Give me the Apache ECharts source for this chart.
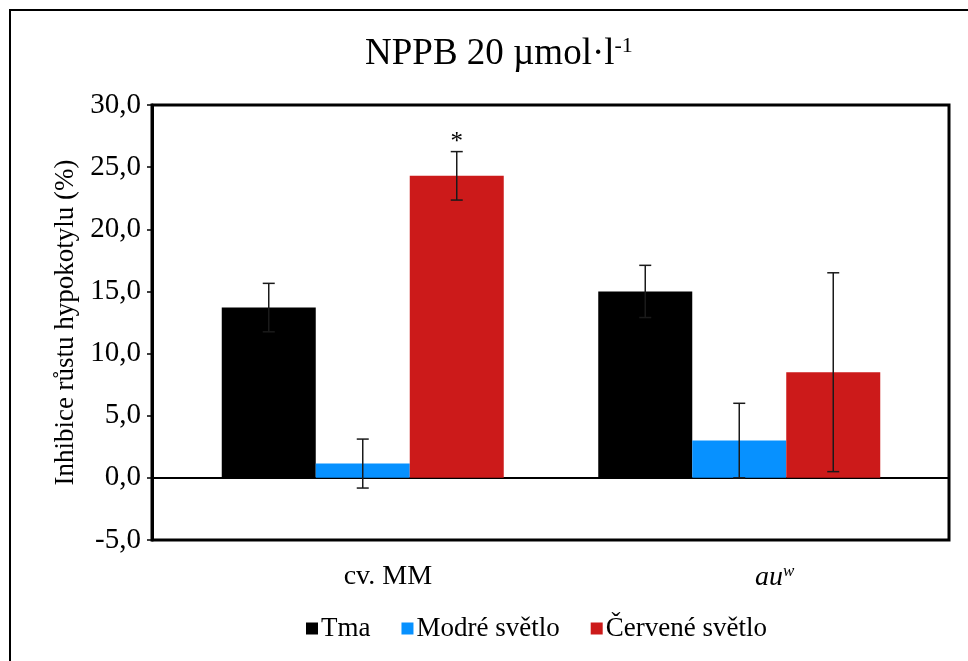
<!DOCTYPE html>
<html>
<head>
<meta charset="utf-8">
<script src="https://cdn.jsdelivr.net/npm/echarts@6/dist/echarts.min.js"></script>
<style>html,body{margin:0;padding:0;background:#fff}#c{width:968px;height:661px}</style>
</head>
<body>
<div id="c"></div>
<script>
var categories = ['cv. MM', 'au'];
var categorySup = ['', 'w'];
var seriesNames = ['Tma', 'Modré světlo', 'Červené světlo'];
var tmaValues = [13.7, 15.0];
var modreValues = [1.15, 3.0];
var cerveneValues = [24.3, 8.5];
var tmaErrors = [1.95, 2.1];
var modreErrors = [1.97, 3.0];
var cerveneErrors = [1.95, 8.0];
var cerveneSignif = ['*', ''];
var yTicks = [-5, 0, 5, 10, 15, 20, 25, 30];

var FONT = '"Liberation Serif", "Times New Roman", serif';
var colors = ['#000000', '#0791ff', '#cc1a1a'];
var values = [tmaValues, modreValues, cerveneValues];
var errors = [tmaErrors, modreErrors, cerveneErrors];
var signif = [['', ''], ['', ''], cerveneSignif];
var BAR_W = 94;

var chart = echarts.init(document.getElementById('c'), null, {renderer: 'canvas'});

var series = [];
seriesNames.forEach(function (name, si) {
  series.push({
    name: name, type: 'bar', xAxisIndex: 1, yAxisIndex: 1,
    data: values[si], barWidth: BAR_W, barGap: '0%',
    itemStyle: {color: colors[si]}, z: 2
  });
});
seriesNames.forEach(function (name, si) {
  var d = values[si].map(function (v, ci) { return [ci, v, errors[si][ci], signif[si][ci]]; });
  series.push({
    type: 'custom', xAxisIndex: 1, yAxisIndex: 1, z: 5, silent: true,
    data: d,
    renderItem: function (params, api) {
      var ci = api.value(0), v = api.value(1), e = api.value(2);
      var c = api.coord([ci, v]);
      var x = c[0] + (si - 1) * BAR_W;
      var top = api.coord([ci, v + e])[1];
      var bot = api.coord([ci, v - e])[1];
      var cap = 6;
      var st = {stroke: '#1a1a1a', lineWidth: 1.5};
      var children = [
        {type: 'line', shape: {x1: x, y1: top, x2: x, y2: bot}, style: st},
        {type: 'line', shape: {x1: x - cap, y1: top, x2: x + cap, y2: top}, style: st},
        {type: 'line', shape: {x1: x - cap, y1: bot, x2: x + cap, y2: bot}, style: st}
      ];
      var s = d[params.dataIndex][3];
      if (s) {
        children.push({type: 'text', style: {text: s, x: x, y: top + 3, align: 'center', verticalAlign: 'bottom', font: '25px ' + FONT, fill: '#000'}});
      }
      return {type: 'group', children: children};
    }
  });
});

var option = {
  animation: false,
  backgroundColor: '#fff',
  title: {
    text: '{m|NPPB 20 µmol·l}{s|-1}',
    left: 360, top: 30,
    textStyle: {
      fontWeight: 'normal',
      rich: {
        m: {fontFamily: FONT, fontSize: 37, fontWeight: 'normal', color: '#000'},
        s: {fontFamily: FONT, fontSize: 22, fontWeight: 'normal', color: '#000', verticalAlign: 'top', padding: [0, 0, 16, 0]}
      }
    }
  },
  legend: {
    data: seriesNames, left: 301, top: 610, icon: 'rect',
    itemWidth: 12, itemHeight: 12, itemGap: 31,
    textStyle: {fontFamily: FONT, fontSize: 27, color: '#000', padding: [0, 0, 0, -2]}
  },
  grid: [
    {left: 152, right: 19, top: 105, bottom: 121, show: true, borderColor: '#000', borderWidth: 3, backgroundColor: 'transparent', containLabel: false},
    {left: 174.5, right: 40.5, top: 105, bottom: 121, containLabel: false},
    {left: 194.5, right: -8.5, top: 105, bottom: 121, containLabel: false}
  ],
  xAxis: [
    {type: 'category', gridIndex: 0, data: [''], axisLine: {show: true, onZero: true, lineStyle: {color: '#000', width: 2}}, axisTick: {show: false}, axisLabel: {show: false}, splitLine: {show: false}},
    {type: 'category', gridIndex: 1, data: categories, axisLine: {show: false, onZero: false}, axisTick: {show: false}, axisLabel: {show: false}},
    {type: 'category', gridIndex: 2, data: categories,
      axisLine: {show: false, onZero: false}, axisTick: {show: false},
      axisLabel: {margin: 23, fontFamily: FONT, fontSize: 28, color: '#000',
        formatter: function (v, i) {
          if (categorySup[i]) return '{i|' + v + '}{s|' + categorySup[i] + '}';
          return v;
        },
        rich: {
          i: {fontFamily: FONT, fontSize: 28, fontStyle: 'italic', color: '#000'},
          s: {fontFamily: FONT, fontSize: 17, fontStyle: 'italic', color: '#000', verticalAlign: 'top', padding: [0, 0, 12, 0]}
        }
      }}
  ],
  yAxis: [
    {type: 'value', gridIndex: 0, min: yTicks[0], max: yTicks[yTicks.length - 1], interval: 5,
      axisLine: {show: true, lineStyle: {color: '#000', width: 3}},
      axisTick: {show: true, length: 5, lineStyle: {color: '#000', width: 1.5}},
      splitLine: {show: false},
      axisLabel: {margin: 11, fontFamily: FONT, fontSize: 29, color: '#000',
        formatter: function (v) { return v.toFixed(1).replace('.', ','); }},
      name: 'Inhibice růstu hypokotylu (%)', nameLocation: 'middle', nameGap: 73, nameRotate: 90,
      nameTextStyle: {fontFamily: FONT, fontSize: 27, color: '#000'}
    },
    {type: 'value', gridIndex: 1, min: yTicks[0], max: yTicks[yTicks.length - 1], interval: 5, show: false},
    {type: 'value', gridIndex: 2, min: yTicks[0], max: yTicks[yTicks.length - 1], interval: 5, show: false}
  ],
  graphic: [
    {type: 'polyline', shape: {points: [[10, 700], [10, 10], [1000, 10]]}, style: {stroke: '#000', lineWidth: 2, fill: null}, silent: true}
  ],
  series: series
};
chart.setOption(option);
</script>
</body>
</html>
